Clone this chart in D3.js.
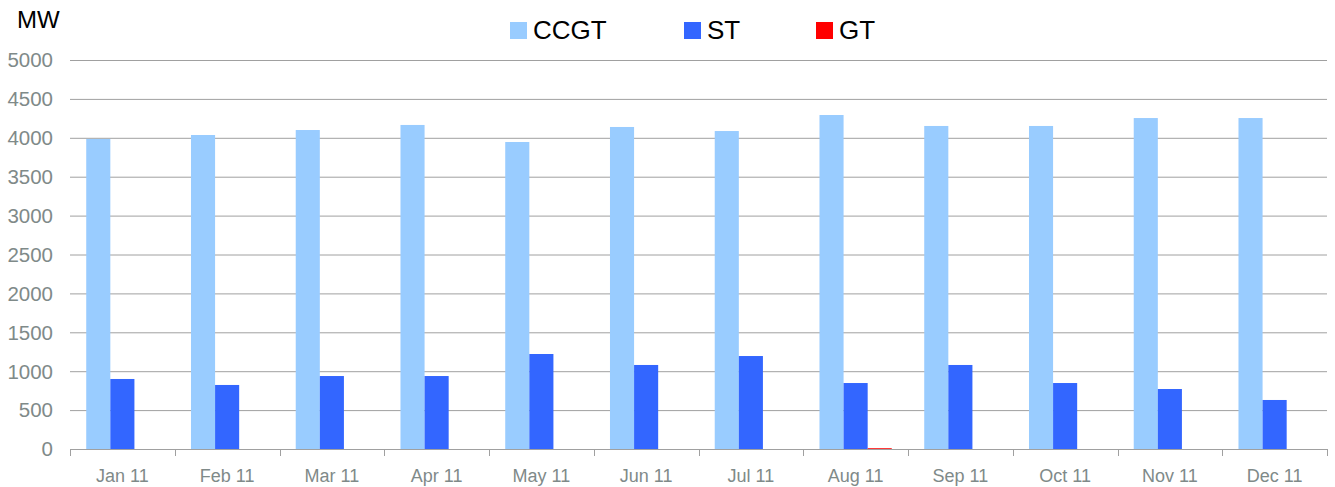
<!DOCTYPE html>
<html>
<head>
<meta charset="utf-8">
<script src="https://cdn.jsdelivr.net/npm/d3@7"></script>
<style>
  body { margin: 0; background: #fff; }
  svg { display: block; font-family: "Liberation Sans", Arial, sans-serif; }
</style>
</head>
<body>
<div id="chart"></div>
<script>
// data
const months = ["Jan 11", "Feb 11", "Mar 11", "Apr 11", "May 11", "Jun 11",
                "Jul 11", "Aug 11", "Sep 11", "Oct 11", "Nov 11", "Dec 11"];
const seriesNames = ["CCGT", "ST", "GT"];
const ccgt = [3985, 4036, 4100, 4165, 3946, 4139, 4087, 4293, 4152, 4152, 4254, 4254];
const st = [900, 823, 938, 938, 1221, 1080, 1195, 848, 1080, 848, 771, 630];
const gt = [0, 0, 0, 0, 0, 0, 0, 10, 0, 0, 0, 0];
const yTicks = [0, 500, 1000, 1500, 2000, 2500, 3000, 3500, 4000, 4500, 5000];

const colors = {CCGT: "#99ccff", ST: "#3366ff", GT: "#ff0000"};

const width = 1335, height = 487;
const margin = {top: 60, right: 8, bottom: 38, left: 70};
const innerW = width - margin.left - margin.right;
const innerH = height - margin.top - margin.bottom;

const rows = months.map((m, i) => ({month: m, CCGT: ccgt[i], ST: st[i], GT: gt[i]}));

const svg = d3.select("#chart").append("svg")
  .attr("width", width)
  .attr("height", height);

const g = svg.append("g")
  .attr("transform", `translate(${margin.left},${margin.top})`);

const x0 = d3.scaleBand()
  .domain(months)
  .range([0, innerW])
  .paddingInner(0.31)
  .paddingOuter(0.155);

const x1 = d3.scaleBand()
  .domain(seriesNames)
  .range([0, x0.bandwidth()]);

const y = d3.scaleLinear()
  .domain([0, 5000])
  .range([innerH, 0]);

// gridlines
g.append("g")
  .selectAll("line")
  .data(yTicks)
  .enter().append("line")
  .attr("x1", 0)
  .attr("x2", innerW)
  .attr("y1", d => y(d) + 0.5)
  .attr("y2", d => y(d) + 0.5)
  .style("stroke", "#a0a0a0")
  .style("stroke-width", 1);

// y labels
g.append("g")
  .selectAll("text")
  .data(yTicks)
  .enter().append("text")
  .attr("x", -17)
  .attr("y", d => y(d))
  .attr("dy", "0.36em")
  .attr("text-anchor", "end")
  .style("font-size", "20.5px")
  .style("fill", "#7f8a89")
  .text(d => d);

// bars
const groups = g.append("g")
  .selectAll("g")
  .data(rows)
  .enter().append("g")
  .attr("transform", d => `translate(${x0(d.month)},0)`);

groups.selectAll("rect")
  .data(d => seriesNames.map(k => ({key: k, value: d[k]})))
  .enter().append("rect")
  .attr("x", d => x1(d.key))
  .attr("width", x1.bandwidth())
  .attr("y", d => y(d.value))
  .attr("height", d => innerH - y(d.value))
  .attr("fill", d => colors[d.key]);

// x axis line + ticks at category boundaries
const bounds = d3.range(months.length + 1).map(i => i * innerW / months.length);
const xa = g.append("g").attr("transform", `translate(0,${innerH})`);
xa.append("line")
  .attr("x1", 0).attr("x2", innerW)
  .attr("y1", 0.5).attr("y2", 0.5)
  .style("stroke", "#a0a0a0");
xa.selectAll("line.tick")
  .data(bounds)
  .enter().append("line")
  .attr("class", "tick")
  .attr("x1", d => Math.round(d) + 0.5)
  .attr("x2", d => Math.round(d) + 0.5)
  .attr("y1", 0).attr("y2", 7)
  .style("stroke", "#a0a0a0");
xa.selectAll("text")
  .data(months)
  .enter().append("text")
  .attr("x", (d, i) => (bounds[i] + bounds[i + 1]) / 2)
  .attr("y", 27)
  .attr("dy", "0.36em")
  .attr("text-anchor", "middle")
  .style("font-size", "18px")
  .style("fill", "#7f8a89")
  .text(d => d);

// unit label
svg.append("text")
  .attr("x", 17)
  .attr("y", 28)
  .style("font-size", "24px")
  .style("fill", "#000")
  .text("MW");

// legend
const legendX = [510, 684, 816];
const legend = svg.append("g")
  .selectAll("g")
  .data(seriesNames)
  .enter().append("g")
  .attr("transform", (d, i) => `translate(${legendX[i]},22)`);
legend.append("rect")
  .attr("width", 17)
  .attr("height", 17)
  .attr("fill", d => colors[d]);
legend.append("text")
  .attr("x", 23)
  .attr("y", 17)
  .style("font-size", "26px")
  .style("fill", "#000")
  .text(d => d);
</script>
</body>
</html>
